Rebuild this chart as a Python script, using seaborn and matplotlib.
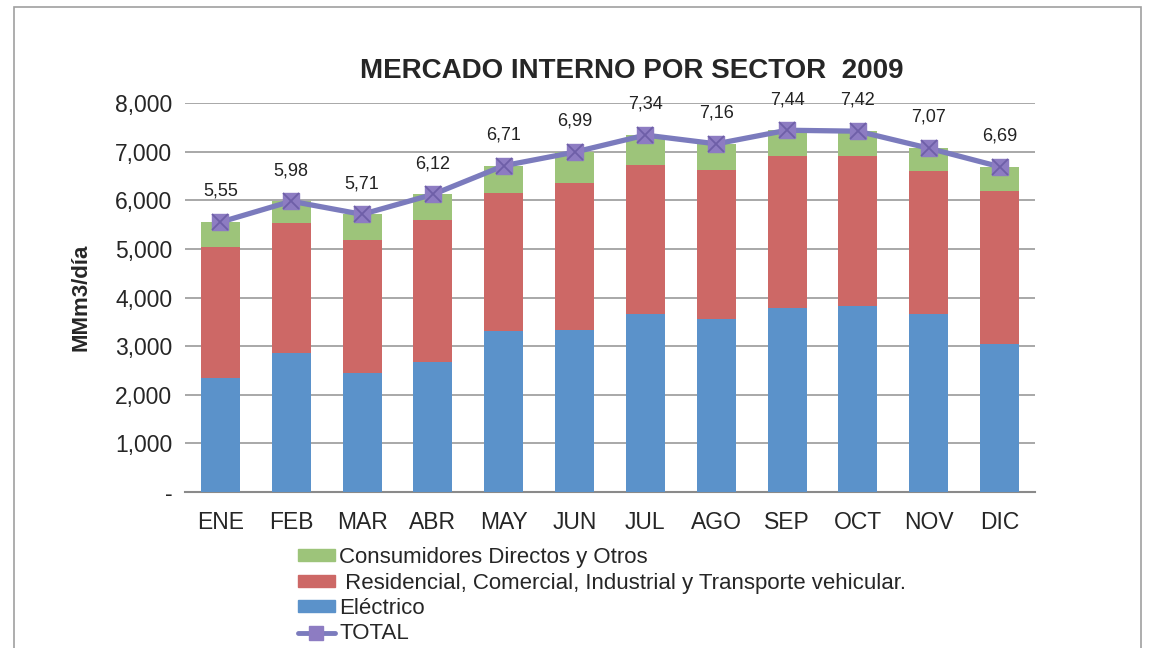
import matplotlib
matplotlib.use("Agg")
import matplotlib.pyplot as plt
import seaborn as sns
import numpy as np
import pandas as pd
from matplotlib.patches import Rectangle, Patch
from matplotlib.lines import Line2D

meses = ["ENE", "FEB", "MAR", "ABR", "MAY", "JUN", "JUL", "AGO", "SEP", "OCT", "NOV", "DIC"]
electrico = [2350, 2855, 2455, 2680, 3305, 3340, 3670, 3555, 3780, 3815, 3670, 3045]
residencial = [2695, 2675, 2735, 2920, 2845, 3025, 3065, 3070, 3140, 3105, 2930, 3135]
consumidores = [505, 450, 520, 520, 560, 625, 605, 535, 520, 500, 470, 510]
total = [5550, 5980, 5710, 6120, 6710, 6990, 7340, 7160, 7440, 7420, 7070, 6690]
total_labels = ["5,55", "5,98", "5,71", "6,12", "6,71", "6,99", "7,34", "7,16", "7,44", "7,42", "7,07", "6,69"]
yticks = [0, 1000, 2000, 3000, 4000, 5000, 6000, 7000, 8000]
ytick_labels = ["-", "1,000", "2,000", "3,000", "4,000", "5,000", "6,000", "7,000", "8,000"]

c_blue = "#5B92CA"
c_red = "#CD6866"
c_green = "#9DC47A"
c_line = "#7B7BBD"
c_mark = "#8D7CC2"

sns.set_theme(style="white")
plt.rcParams["font.family"] = ["Liberation Sans", "DejaVu Sans"]

df = pd.DataFrame({"mes": meses, "ele": electrico, "res": residencial, "con": consumidores, "tot": total})
df["top_res"] = df["ele"] + df["res"]
df["top_con"] = df["top_res"] + df["con"]

fig = plt.figure(figsize=(11.55, 6.48), dpi=100)
fig.patch.set_facecolor("white")
fig.patches.append(Rectangle((14 / 1155, -0.01), (1141 - 14) / 1155, 1 - 7 / 648 + 0.01,
                             transform=fig.transFigure, fill=False, edgecolor="#A0A0A0", lw=1.2))

ax = fig.add_axes([185 / 1155, 1 - 492 / 648, (1035 - 185) / 1155, (492 - 103) / 648])

for y in yticks[1:]:
    ax.axhline(y, color="#9A9A9A", lw=1.2, zorder=0)

w = 0.55
sns.barplot(data=df, x="mes", y="top_con", color=c_green, width=w, saturation=1, ax=ax, zorder=2, linewidth=0)
sns.barplot(data=df, x="mes", y="top_res", color=c_red, width=w, saturation=1, ax=ax, zorder=3, linewidth=0)
sns.barplot(data=df, x="mes", y="ele", color=c_blue, width=w, saturation=1, ax=ax, zorder=4, linewidth=0)

xpos = np.arange(len(meses))
sns.lineplot(x=xpos, y=df["tot"], color=c_line, lw=3.8, ax=ax, zorder=5, sort=False)
ax.plot(xpos, df["tot"], ls="none", marker="s", ms=11.5, color=c_mark, zorder=6)
ax.plot(xpos, df["tot"], ls="none", marker="x", ms=11.5, mew=1.3, color="#6E5FA8", zorder=7)

for i, (v, lab) in enumerate(zip(total, total_labels)):
    ax.annotate(lab, (i, v), xytext=(0, 16), textcoords="offset points", ha="center", va="bottom",
                fontsize=13, color="#222222")

ax.set_xlim(-0.5, len(meses) - 0.5)
ax.set_ylim(0, 8000)
ax.set_yticks(yticks)
ax.set_yticklabels(ytick_labels, fontsize=16.5)
ax.tick_params(axis="x", labelsize=16.5, length=0, pad=14)
ax.tick_params(axis="y", length=0, pad=9)
ax.set_xlabel("")
ax.set_ylabel("MMm3/día", fontsize=16, fontweight="bold")
ax.yaxis.set_label_coords((92 - 185) / 850, 0.5)
for s in ["top", "right", "left"]:
    ax.spines[s].set_visible(False)
ax.spines["bottom"].set_color("#8A8A8A")
ax.spines["bottom"].set_linewidth(1.5)
ax.set_facecolor("white")

fig.text(632 / 1155, 1 - 71 / 648, "MERCADO INTERNO POR SECTOR  2009", ha="center", va="center",
         fontsize=20, fontweight="bold")

handles = [Patch(color=c_green), Patch(color=c_red), Patch(color=c_blue),
           Line2D([], [], color=c_line, lw=3.5, marker="s", ms=10, markerfacecolor=c_mark, markeredgecolor=c_mark)]
labels = ["Consumidores Directos y Otros", " Residencial, Comercial, Industrial y Transporte vehicular.",
          "Eléctrico", "TOTAL"]
fig.legend(handles, labels, loc="upper left", bbox_to_anchor=(287 / 1155, 1 - 536 / 648), frameon=False,
           fontsize=16, handlelength=1.65, handleheight=0.45, handletextpad=0.2, labelspacing=0.2, borderpad=0)

fig.savefig("out.png", dpi=100)
